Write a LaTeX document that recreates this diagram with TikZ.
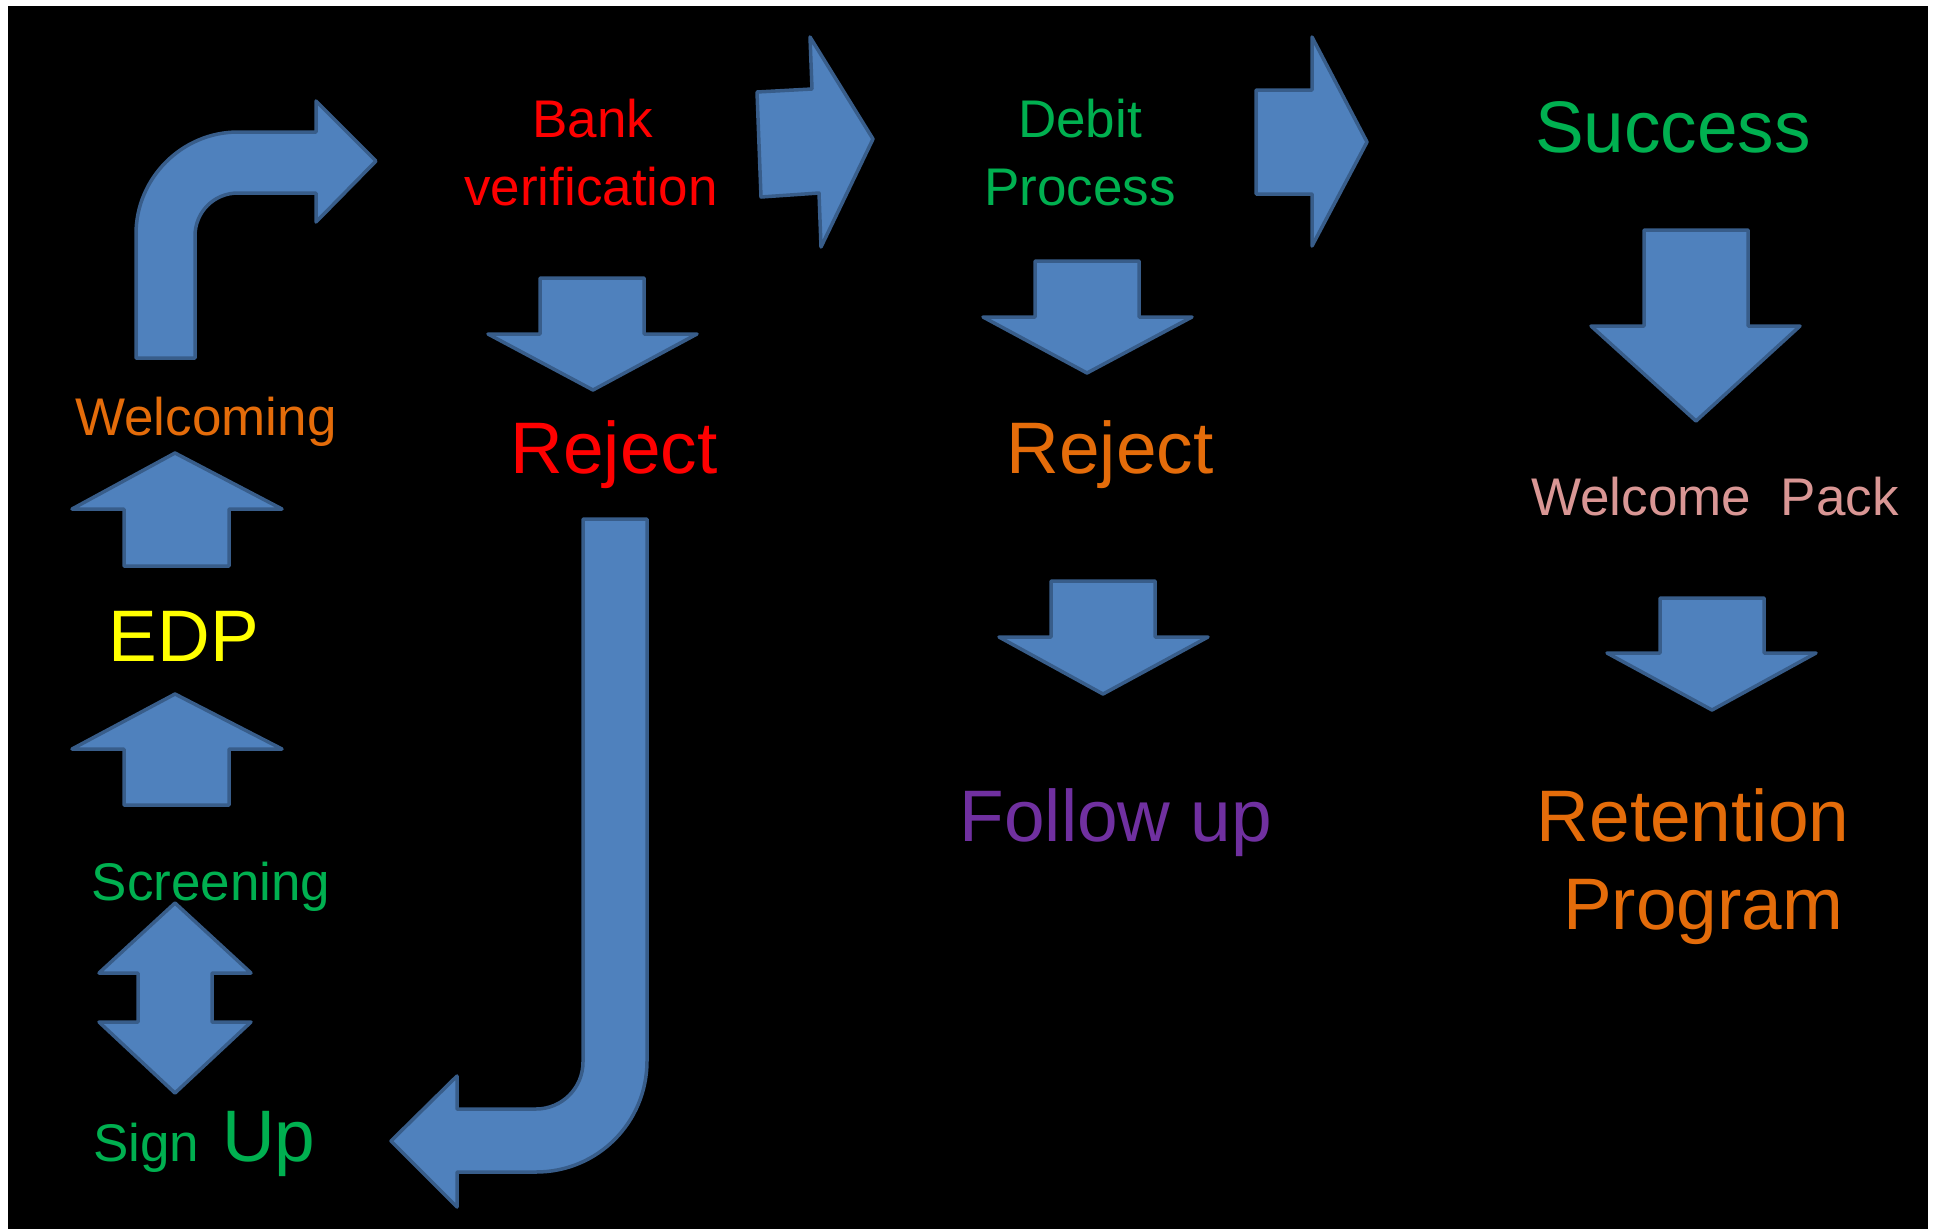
\documentclass[tikz,border=0pt]{standalone}
\usepackage{fontspec}
\setmainfont{Liberation Sans}
\definecolor{arrfill}{HTML}{4F81BD}
\definecolor{arrdraw}{HTML}{385D8A}
\definecolor{tred}{HTML}{FF0000}
\definecolor{tgreen}{HTML}{00B050}
\definecolor{torange}{HTML}{E46C0A}
\definecolor{tyellow}{HTML}{FFFF00}
\definecolor{tpurple}{HTML}{7030A0}
\definecolor{tpink}{HTML}{D99694}
\tikzset{
  blockarrow/.style={fill=arrfill, draw=arrdraw, line width=3.5pt, line join=round},
  smalltxt/.style={anchor=base, inner sep=0pt, font=\fontsize{53}{60}\selectfont},
  bigtxt/.style={anchor=base, inner sep=0pt, font=\fontsize{73}{82}\selectfont},
}
\begin{document}
\begin{tikzpicture}[x=1pt,y=-1pt]
\useasboundingbox (0,0) rectangle (1937,1229);
\fill[white] (0,0) rectangle (1937,1229);
\fill[black] (8,6) rectangle (1928,1229);

% bent arrow up-right
\path[blockarrow] (136,358) -- (136,234) .. controls (136,178) and (182,132) .. (238,132)
  -- (316,132) -- (316,101) -- (376,161) -- (316,222) -- (316,193) -- (238,193)
  .. controls (214,193) and (195,212) .. (195,236) -- (195,358) -- cycle;

% J arrow down-left
\path[blockarrow] (583,519) -- (647,519) -- (647,1061) .. controls (647,1122) and (598,1172) .. (536,1172)
  -- (457,1172) -- (457,1207) -- (391,1141) -- (457,1076) -- (457,1109) -- (536,1109)
  .. controls (562,1109) and (583,1088) .. (583,1062) -- cycle;

% up arrows
\path[blockarrow] (175,453) -- (282,509) -- (229,509) -- (229,566) -- (124,566) -- (124,509) -- (72,509) -- cycle;
\path[blockarrow] (175,694) -- (282,749) -- (229,749) -- (229,805) -- (124,805) -- (124,749) -- (72,749) -- cycle;

% up-down arrow
\path[blockarrow] (175,903) -- (251,973) -- (212,973) -- (212,1022) -- (251,1022) -- (175,1093)
  -- (99,1022) -- (138,1022) -- (138,973) -- (99,973) -- cycle;

% down arrows
\path[blockarrow] (540,278) -- (644,278) -- (644,334) -- (697,334) -- (593,390) -- (488,334) -- (540,334) -- cycle;
\path[blockarrow] (1035,261) -- (1139,261) -- (1139,317) -- (1192,317) -- (1087,373) -- (983,317) -- (1035,317) -- cycle;
\path[blockarrow] (1051,581) -- (1155,581) -- (1155,637) -- (1208,637) -- (1103,694) -- (999,637) -- (1051,637) -- cycle;
\path[blockarrow] (1644,230) -- (1748,230) -- (1748,326) -- (1800,326) -- (1696,421) -- (1591,326) -- (1644,326) -- cycle;
\path[blockarrow] (1660,598) -- (1764,598) -- (1764,653) -- (1816,653) -- (1712,710) -- (1607,653) -- (1660,653) -- cycle;

% right arrows
\path[blockarrow] (757,92) -- (812,89) -- (810,37) -- (873,139) -- (821,247) -- (819,193) -- (761,197) -- cycle;
\path[blockarrow] (1256,90) -- (1312,90) -- (1312,37) -- (1367,142) -- (1312,246) -- (1312,194) -- (1256,194) -- cycle;

% texts
\node[smalltxt, text=torange] (welcoming) at (206,435) {Welcoming};
\node[bigtxt, text=tyellow] (edp) at (184,661) {EDP};
\node[smalltxt, text=tgreen] (screening) at (211,900) {Screening};
\node[smalltxt, text=tgreen, anchor=base west] (sign) at (93,1161) {Sign};
\node[bigtxt, text=tgreen, anchor=base west] (up) at (222,1161) {Up};
\node[smalltxt, text=tred] (bank) at (593,137) {Bank};
\node[smalltxt, text=tred] (verif) at (591,205) {verification};
\node[bigtxt, text=tred] (reject1) at (614,473) {Reject};
\node[smalltxt, text=tgreen] (debit) at (1080,137) {Debit};
\node[smalltxt, text=tgreen] (process) at (1080,205) {Process};
\node[bigtxt, text=torange] (reject2) at (1110,473) {Reject};
\node[bigtxt, text=tpurple] (followup) at (1116,841) {Follow up};
\node[bigtxt, text=tgreen] (success) at (1673,152) {Success};
\node[smalltxt, text=tpink] (wpack) at (1715,515) {Welcome\ \ Pack};
\node[bigtxt, text=torange] (retention) at (1693,841) {Retention};
\node[bigtxt, text=torange] (program) at (1703,929) {Program};
\end{tikzpicture}
\end{document}
